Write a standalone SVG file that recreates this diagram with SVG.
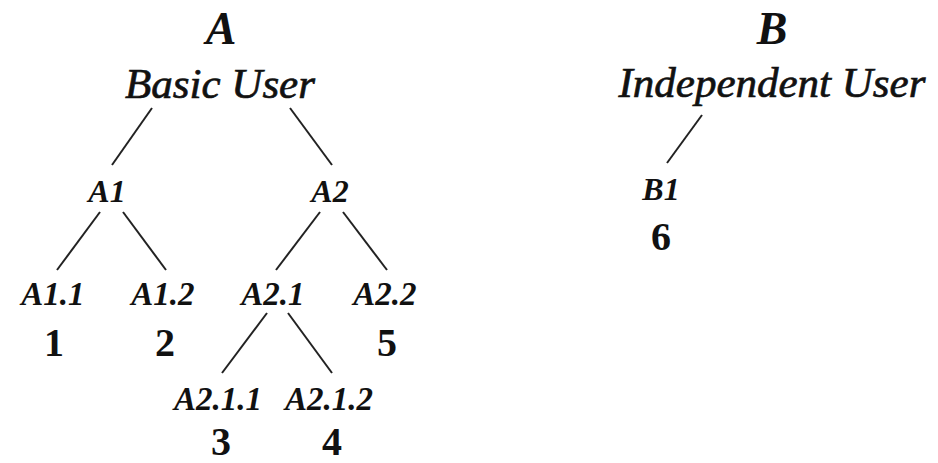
<svg xmlns="http://www.w3.org/2000/svg" width="938" height="463" viewBox="0 0 938 463">
<style>
text{font-family:"Liberation Serif","DejaVu Serif",serif;fill:#111;text-anchor:middle}
.root{font-style:italic;font-weight:bold;font-size:46px}
.name{font-style:italic;font-size:43px;stroke:#111;stroke-width:0.7}
.lv1{font-style:italic;font-weight:bold;font-size:32px}
.lv2{font-style:italic;font-weight:bold;font-size:33px}
.num{font-weight:bold;font-size:40px}
.edge{stroke:#222;stroke-width:2;fill:none}
</style>
<rect width="938" height="463" fill="#fff"/>
<g id="connectors">
<line class="edge" x1="152" y1="108" x2="112" y2="165"/>
<line class="edge" x1="290" y1="108" x2="332" y2="165"/>
<line class="edge" x1="100" y1="212" x2="57" y2="270"/>
<line class="edge" x1="123" y1="212" x2="166" y2="270"/>
<line class="edge" x1="320" y1="212" x2="276" y2="270"/>
<line class="edge" x1="343" y1="212" x2="387" y2="270"/>
<line class="edge" x1="267" y1="313" x2="222" y2="373"/>
<line class="edge" x1="288" y1="313" x2="332" y2="373"/>
<line class="edge" x1="702" y1="115" x2="667" y2="163"/>
</g>
<g id="nodeA"><text class="root" x="221" y="44">A</text><text class="name" x="220" y="98">Basic User</text></g>
<g id="nodeB"><text class="root" x="772" y="44">B</text><text class="name" x="772" y="97">Independent User</text></g>
<g id="nodeA1"><text class="lv1" x="107" y="202">A1</text></g>
<g id="nodeA2"><text class="lv1" x="330" y="202">A2</text></g>
<g id="nodeA11"><text class="lv2" x="53" y="305">A1.1</text><text class="num" x="54" y="356">1</text></g>
<g id="nodeA12"><text class="lv2" x="163" y="305">A1.2</text><text class="num" x="165" y="356">2</text></g>
<g id="nodeA21"><text class="lv2" x="273" y="305">A2.1</text></g>
<g id="nodeA22"><text class="lv2" x="385" y="305">A2.2</text><text class="num" x="387" y="356">5</text></g>
<g id="nodeA211"><text class="lv2" x="218" y="410">A2.1.1</text><text class="num" x="221" y="455">3</text></g>
<g id="nodeA212"><text class="lv2" x="329" y="410">A2.1.2</text><text class="num" x="332" y="455">4</text></g>
<g id="nodeB1"><text class="lv1" x="661" y="200">B1</text><text class="num" x="661" y="250">6</text></g>
</svg>
